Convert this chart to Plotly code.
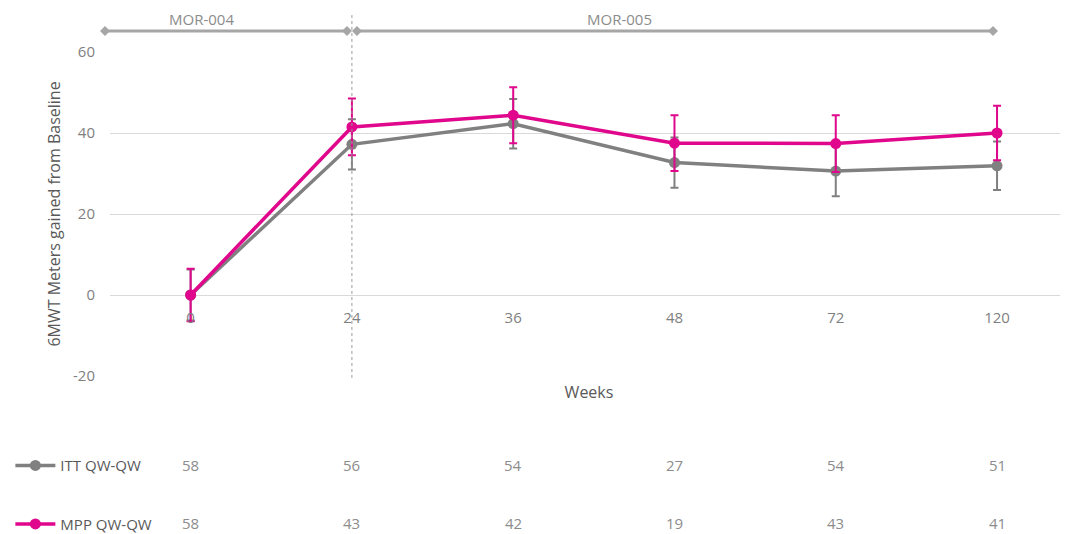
import plotly.graph_objects as go

weeks = ["0", "24", "36", "48", "72", "120"]
itt_mean = [0.0, 37.2, 42.3, 32.7, 30.6, 31.9]
itt_err = [6.3, 6.2, 6.1, 6.2, 6.2, 6.0]
mpp_mean = [0.0, 41.5, 44.4, 37.5, 37.4, 40.0]
mpp_err = [6.5, 7.0, 6.9, 6.9, 7.0, 6.7]
itt_n = [58, 56, 54, 27, 54, 51]
mpp_n = [58, 43, 42, 19, 43, 41]
series_names = ["ITT QW-QW", "MPP QW-QW"]
study_labels = ["MOR-004", "MOR-005"]
y_ticks = [-20, 0, 20, 40, 60]

GRAY = "#808080"
MAG = "#E0078C"
FONT = "Open Sans"

fig = go.Figure()
for i, (name, mean, err, col) in enumerate([
    (series_names[0], itt_mean, itt_err, GRAY),
    (series_names[1], mpp_mean, mpp_err, MAG),
]):
    fig.add_trace(go.Scatter(
        x=weeks, y=mean, name=name, mode="lines+markers",
        line=dict(color=col, width=3.5),
        marker=dict(color=col, size=11),
        error_y=dict(type="data", array=err, visible=True, color=col,
                     thickness=2, width=4),
        legendgroup=f"g{i}",
    ))

# table of N values under each week (x given as category index)
for row_y, vals in [(-0.2747, itt_n), (-0.4537, mpp_n)]:
    for idx, v in enumerate(vals):
        fig.add_annotation(x=idx, y=row_y, xref="x", yref="paper", text=str(v),
                           showarrow=False, font=dict(size=15, color="#8C8C8C", family=FONT),
                           xanchor="center", yanchor="middle")

shapes = []
LC = "#A6A6A6"
# study span lines (paper coordinates)
for x0, x1 in [(-0.0052, 0.2474), (0.2578, 0.9217)]:
    shapes.append(dict(type="line", xref="paper", yref="paper", x0=x0, x1=x1,
                       y0=1.0648, y1=1.0648, line=dict(color=LC, width=3)))
    for xx in (x0, x1):
        shapes.append(dict(type="path", xref="paper", yref="paper",
                           xsizemode="pixel", ysizemode="pixel",
                           xanchor=xx, yanchor=1.0648,
                           path="M -5,0 L 0,5 L 5,0 L 0,-5 Z",
                           fillcolor=LC, line=dict(color=LC, width=0)))
# vertical dotted separator at week 24
shapes.append(dict(type="line", xref="x", yref="paper", x0=1, x1=1,
                   y0=-0.006, y1=1.114, line=dict(color="#9A9A9A", width=1, dash="dot")))

for lbl, xx in zip(study_labels, [0.096, 0.532]):
    fig.add_annotation(x=xx, y=1.102, xref="paper", yref="paper", text=lbl, showarrow=False,
                       font=dict(size=15, color="#8C8C8C", family=FONT),
                       xanchor="center", yanchor="middle")

fig.update_layout(
    width=1060, height=526,
    margin=dict(l=102, r=0, t=44, b=158, autoexpand=False),
    paper_bgcolor="white", plot_bgcolor="white",
    font=dict(family=FONT, color="#595959"),
    shapes=shapes,
    showlegend=True,
    legend=dict(x=-0.104, xanchor="left", y=-0.2257, yanchor="top",
                traceorder="grouped", tracegroupgap=36, itemwidth=40,
                font=dict(size=15, color="#595959", family=FONT),
                bgcolor="rgba(0,0,0,0)"),
    xaxis=dict(type="category", range=[-0.5, 5.44], anchor="free", position=0.25,
               showgrid=False, showline=False, zeroline=False, ticks="",
               tickfont=dict(size=15, color="#7F7F7F"), ticklabelstandoff=12,
               title=dict(text="Weeks", font=dict(size=16, color="#595959"), standoff=60)),
    yaxis=dict(range=[-20, 60], tickvals=y_ticks, ticktext=[str(t) for t in y_ticks],
               showgrid=True, gridcolor="#D9D9D9",
               gridwidth=1, zeroline=False, showline=False, ticks="",
               tickfont=dict(size=15, color="#7F7F7F"), ticklabelstandoff=14,
               title=dict(text="6MWT Meters gained from Baseline",
                          font=dict(size=16, color="#595959"), standoff=8)),
)

fig.write_html("out.html")
